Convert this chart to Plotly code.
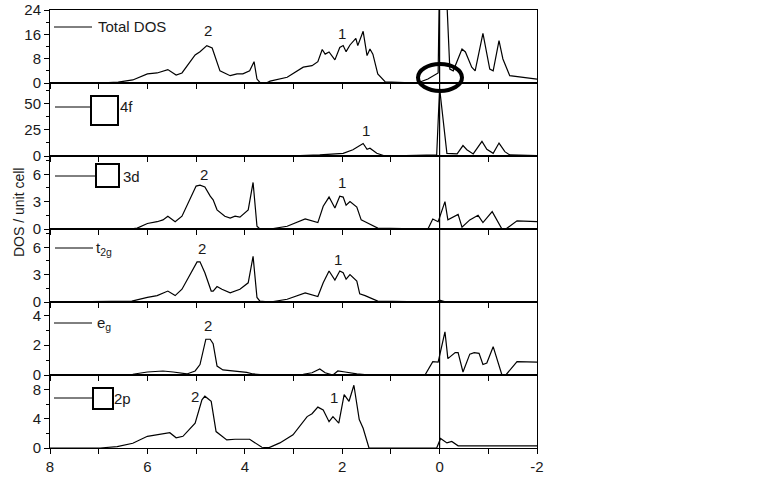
import plotly.graph_objects as go
from plotly.subplots import make_subplots

# ---------------- data (energy in eV, DOS in states / unit cell) ----------------
total_x = [8, 7.0, 6.8, 6.6, 6.3, 6.0, 5.8, 5.58, 5.41, 5.29, 5.02, 4.92, 4.78, 4.67, 4.61, 4.51,
           4.30, 4.16, 4.04, 3.9, 3.81, 3.75, 3.69, 3.55, 3.48, 3.28, 3.13, 2.80, 2.62, 2.50, 2.41,
           2.35, 2.27, 2.15, 2.05, 1.98, 1.92, 1.84, 1.72, 1.68, 1.57, 1.49, 1.43, 1.37, 1.27,
           1.12, 0.46, 0.24, 0.03, -0.03, -0.21, -0.28, -0.46, -0.53, -0.66, -0.73, -0.89,
           -1.03, -1.10, -1.22, -1.30, -1.44, -2]
total_y = [0, 0, 0.1, 0.3, 1.0, 3.0, 3.3, 4.4, 2.6, 3.3, 9.2, 10.3, 12.3, 11.5, 8.9, 4.0,
           2.4, 3.0, 3.0, 4.0, 7.0, 1.3, 0.2, 0.1, 0.6, 1.3, 1.9, 5.2, 5.7, 7.0, 11.0,
           9.5, 10.2, 7.6, 11.7, 12.3, 10.3, 12.5, 14.7, 12.3, 17.0, 9.0, 11.2, 9.5, 3.0,
           0.4, 0, 1.3, 3.3, 70, 4.6, 4.0, 11.2, 10.2, 5.2, 4.0, 16.3,
           4.6, 4.0, 13.9, 7.9, 2.4, 1.3]

f4_x = [8, 3.0, 2.46, 1.98, 1.78, 1.57, 1.49, 1.43, 1.29, 1.12, 0.06, 0.0, -0.15, -0.36, -0.48,
        -0.56, -0.69, -0.87, -0.97, -1.10, -1.22, -1.34, -1.44, -2]
f4_y = [0, 0.2, 1.0, 2.6, 6.0, 12.0, 6.5, 7.5, 2.6, 0, 1.0, 65, 2.5, 2.0, 10.0,
        6.0, 2.0, 14.0, 6.5, 2.6, 12.4, 4.2, 1.0, 0.3]

d3_x = [8, 6.36, 6.21, 6.0, 5.8, 5.68, 5.58, 5.43, 5.29, 5.0, 4.92, 4.82, 4.71, 4.65, 4.57,
        4.41, 4.30, 4.2, 4.1, 3.93, 3.83, 3.75, 3.69, 3.48, 3.13, 2.76, 2.50, 2.39, 2.27,
        2.15, 2.05, 1.98, 1.92, 1.84, 1.70, 1.61, 1.53, 1.27, 0.24, 0.14, 0.03, -0.11,
        -0.17, -0.38, -0.46, -0.62, -0.79, -0.89, -1.08, -1.28, -1.36, -1.59, -2]
d3_y = [0, 0, 0.1, 0.6, 0.8, 1.0, 1.4, 0.8, 1.4, 4.7, 4.8, 4.6, 3.6, 3.2, 2.1,
        1.4, 1.2, 1.4, 1.3, 2.1, 5.1, 0.3, 0, 0, 0.3, 1.1, 0.7, 2.5, 3.5,
        2.3, 3.6, 3.5, 2.6, 3.0, 2.4, 1.0, 0.8, 0.1, 0, 1.1, 0.8, 3.0,
        1.0, 1.6, 0.2, 1.0, 1.5, 0.7, 1.9, 0, 0, 0.9, 0.8]

t2g_x = [8, 6.32, 6.0, 5.8, 5.58, 5.43, 5.29, 4.98, 4.92, 4.82, 4.69, 4.65, 4.57, 4.47, 4.30,
         4.2, 4.1, 3.93, 3.83, 3.75, 3.69, 3.48, 3.13, 2.76, 2.50, 2.39, 2.27, 2.15, 2.05,
         1.98, 1.92, 1.84, 1.70, 1.64, 1.53, 1.27, 0.06, 0.0, -0.1, -2]
t2g_y = [0, 0.1, 0.5, 0.7, 1.2, 0.7, 1.4, 4.4, 4.4, 3.2, 1.2, 1.2, 1.7, 1.4, 1.0,
         1.2, 1.4, 2.1, 5.0, 0.5, 0.1, 0, 0.3, 1.0, 0.6, 2.1, 3.4, 2.4, 3.4,
         3.2, 2.5, 3.0, 2.3, 0.9, 0.7, 0.1, 0, 0.2, 0.05, 0.05]

eg_x = [8, 6.6, 6.3, 6.0, 5.68, 5.47, 5.19, 5.02, 4.92, 4.8, 4.71, 4.65, 4.57, 4.45, 4.24,
        3.96, 3.83, 3.55, 2.8, 2.62, 2.46, 2.35, 2.19, 2.09, 1.94, 1.70, 1.43, 0.30, 0.14,
        0.03, -0.11, -0.17, -0.32, -0.38, -0.48, -0.62, -0.71, -0.81, -0.89, -0.97, -1.10,
        -1.28, -1.36, -1.59, -2]
eg_y = [0, 0, 0.05, 0.2, 0.27, 0.2, 0.07, 0.27, 0.7, 2.4, 2.4, 2.1, 0.6, 0.34, 0.27,
        0.18, 0.07, 0, 0.05, 0.15, 0.4, 0.15, 0, 0.27, 0.2, 0.07, 0, 0, 0.9,
        0.86, 2.9, 1.1, 1.5, 1.5, 0.2, 1.4, 1.5, 1.45, 0.7, 0.8, 1.9,
        0, 0, 0.9, 0.86]

p2_x = [8, 6.97, 6.62, 6.3, 6.0, 5.8, 5.54, 5.41, 5.27, 5.02, 4.88, 4.82, 4.69, 4.59, 4.37,
        4.20, 3.9, 3.65, 3.5, 3.28, 3.01, 2.72, 2.62, 2.5, 2.39, 2.27, 2.19, 2.07, 1.96,
        1.86, 1.76, 1.65, 1.57, 1.45, 0.06, -0.02, -0.15, -0.25, -0.38, -2]
p2_y = [0, 0, 0.2, 0.65, 1.6, 1.8, 2.1, 1.4, 1.6, 3.4, 6.6, 7.1, 6.4, 2.25, 1.1,
        1.2, 1.2, 0.1, 0.05, 0.7, 1.8, 4.3, 4.7, 5.6, 5.2, 3.6, 4.3, 3.4, 7.3,
        6.4, 8.6, 3.9, 2.7, 0, 0, 1.3, 0.7, 0.9, 0.3, 0.3]

panel_names = ["Total DOS", "4f", "3d", "t<sub>2g</sub>", "e<sub>g</sub>", "2p"]
y_ranges = [[0, 24], [0, 70], [0, 8], [0, 8], [0, 4.9], [0, 10]]
y_dticks = [8, 25, 3, 3, 2, 4]
x_tick_vals = [8, 6, 4, 2, 0, -2]
x_tick_text = ["8", "6", "4", "2", "0", "-2"]
x_minor_vals = [7, 5, 3, 1, -1]
fermi_level = 0
y_title = "DOS / unit cell"

# peak labels: (panel index, text, pixel x, pixel y)
peak_labels = [(0, "2", 208, 31), (0, "1", 342, 33), (1, "1", 366, 130),
               (2, "2", 204, 175), (2, "1", 342, 182), (3, "2", 202, 248),
               (3, "1", 338, 259), (4, "2", 208, 325), (5, "2", 195, 396), (5, "1", 334, 397)]

series = [(total_x, total_y), (f4_x, f4_y), (d3_x, d3_y), (t2g_x, t2g_y), (eg_x, eg_y), (p2_x, p2_y)]

# ---------------- figure ----------------
W, H = 768, 480
ML, MR, MT, MB = 50, 231, 10, 32
PW, PH = W - ML - MR, H - MT - MB


def px(xp):
    return (xp - ML) / PW


def py(yp):
    return (H - MB - yp) / PH


FONT = "Liberation Sans, Arial, sans-serif"
TXT = "#1a1a1a"

fig = make_subplots(rows=6, cols=1, shared_xaxes=True, vertical_spacing=0)

for i, (xs, ys) in enumerate(series):
    fig.add_trace(go.Scatter(x=xs, y=ys, mode="lines", line=dict(color="black", width=1.2),
                             showlegend=False, hoverinfo="skip"), row=i + 1, col=1)
    fig.update_yaxes(range=y_ranges[i], tickmode="linear", tick0=0, dtick=y_dticks[i],
                     ticks="outside", ticklen=5, tickwidth=1, tickcolor="black",
                     minor=dict(ticks="outside", ticklen=3, dtick=y_dticks[i] / 2, tick0=0,
                                tickcolor="black", showgrid=False),
                     showline=True, linecolor="black", linewidth=1, mirror=True,
                     showgrid=False, zeroline=False, automargin=False,
                     tickfont=dict(family=FONT, size=15, color=TXT),
                     row=i + 1, col=1)
    fig.update_xaxes(range=[8, -2], tickmode="array", tickvals=x_tick_vals,
                     ticktext=x_tick_text, ticks="outside", ticklen=5, tickcolor="black",
                     minor=dict(tickmode="array", tickvals=x_minor_vals, ticks="outside",
                                ticklen=5, tickcolor="black", showgrid=False),
                     showline=True, linecolor="black", linewidth=1, mirror=True,
                     showgrid=False, zeroline=False, showticklabels=(i == 5),
                     automargin=False,
                     tickfont=dict(family=FONT, size=15, color=TXT),
                     row=i + 1, col=1)

# Fermi level line across all panels
fig.add_shape(type="line", xref="x", yref="paper", x0=fermi_level, x1=fermi_level,
              y0=0, y1=1, line=dict(color="black", width=1.2))

# legend-like labels per panel
legend_items = [
    # (name, line x0, line x1, line y, text x, box)
    (panel_names[0], 54, 92, 27, 96, None),
    (panel_names[1], 55, 91, 107, 118, (91, 96, 118, 125)),
    (panel_names[2], 55, 96, 176, 121, (96, 164, 119, 187)),
    (panel_names[3], 55, 93, 248, 94, None),
    (panel_names[4], 54, 92, 323, 95, None),
    (panel_names[5], 54, 93, 398, 112, (93, 388, 113, 409)),
]
for name, lx0, lx1, ly, tx, box in legend_items:
    fig.add_shape(type="line", xref="paper", yref="paper", x0=px(lx0), x1=px(lx1),
                  y0=py(ly), y1=py(ly), line=dict(color="black", width=1))
    if box:
        fig.add_shape(type="rect", xref="paper", yref="paper", x0=px(box[0]), x1=px(box[2]),
                      y0=py(box[3]), y1=py(box[1]), line=dict(color="black", width=2),
                      fillcolor="white")
    fig.add_annotation(text=name, xref="paper", yref="paper", x=px(tx), y=py(ly),
                       xanchor="left", yanchor="middle", showarrow=False,
                       font=dict(family=FONT, size=15, color=TXT))

for _, txt, xp, yp in peak_labels:
    fig.add_annotation(text=txt, xref="paper", yref="paper", x=px(xp), y=py(yp),
                       xanchor="center", yanchor="middle", showarrow=False,
                       font=dict(family=FONT, size=15, color=TXT))

# highlight ellipse near the Fermi level
fig.add_shape(type="circle", xref="paper", yref="paper", x0=px(418), x1=px(462),
              y0=py(91), y1=py(64), line=dict(color="black", width=4))

fig.add_annotation(text=y_title, xref="paper", yref="paper", x=px(19), y=py(213),
                   textangle=-90, showarrow=False, xanchor="center", yanchor="middle",
                   font=dict(family=FONT, size=14, color=TXT))

fig.update_layout(width=W, height=H, margin=dict(l=ML, r=MR, t=MT, b=MB),
                  plot_bgcolor="white", paper_bgcolor="white", showlegend=False)

fig.write_html("out.html", config={"displayModeBar": False},
               post_script="document.body.style.margin='0';document.body.style.overflow='hidden';")
